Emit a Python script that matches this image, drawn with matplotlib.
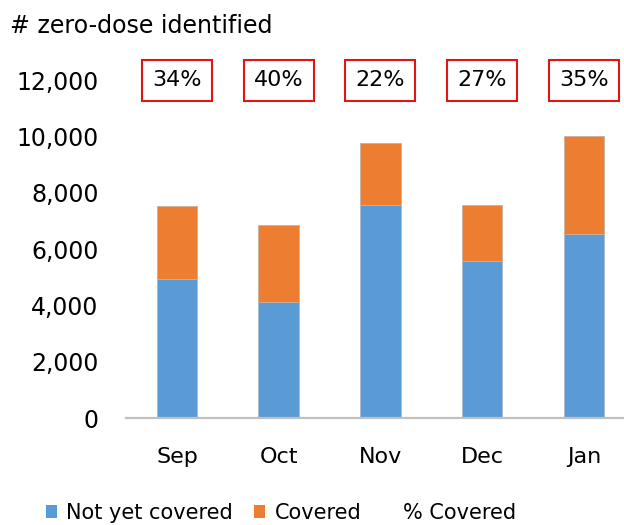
import matplotlib
matplotlib.use("Agg")
import matplotlib.pyplot as plt
from matplotlib.patches import Patch
from matplotlib.lines import Line2D
import numpy as np

months = ["Sep", "Oct", "Nov", "Dec", "Jan"]
not_yet_covered = [4935, 4130, 7580, 5570, 6530]
covered = [2600, 2720, 2180, 1990, 3490]
pct_covered = [34, 40, 22, 27, 35]
y_ticks = [0, 2000, 4000, 6000, 8000, 10000, 12000]

plt.rcParams['font.family'] = ['DejaVu Sans']

W, H = 624, 525
fig = plt.figure(figsize=(W / 100, H / 100), dpi=100)
left, right, bottom, top = 126.2, 624, 418.3, 80.3
ax = fig.add_axes([left / W, 1 - bottom / H, (right - left) / W, (bottom - top) / H])

blue = "#5B9BD5"
orange = "#ED7D31"
x = np.arange(len(months))
bw = 0.40
ax.bar(x, not_yet_covered, width=bw, color=blue, edgecolor="#a9b8c8", linewidth=0.6)
ax.bar(x, covered, width=bw, bottom=not_yet_covered, color=orange, edgecolor="#c8b0a0", linewidth=0.6)

spacing = 101.7
ax.set_xlim(-0.5, -0.5 + (right - left) / spacing)
ax.set_ylim(0, 12000)

for i, p in enumerate(pct_covered):
    ax.text(x[i], 12000, f"{p}%", ha="center", va="center", fontsize=16,
            bbox=dict(boxstyle="square,pad=0.46", facecolor="white", edgecolor="#E01515", linewidth=1.5),
            clip_on=False, zorder=5)

ax.set_yticks(y_ticks)
ax.set_yticklabels([f"{v:,}" for v in y_ticks], fontsize=17)
ax.set_xticks(x)
ax.set_xticklabels(months, fontsize=16)
ax.tick_params(axis="y", length=0, pad=20)
ax.tick_params(axis="x", length=0, pad=21)
for s in ["top", "right", "left"]:
    ax.spines[s].set_visible(False)
ax.spines["bottom"].set_color("#c0c0c0")
ax.spines["bottom"].set_linewidth(1.6)

fig.text(10 / W, 1 - 33 / H, "# zero-dose identified", fontsize=17.1, ha="left", va="baseline")

handles = [Patch(facecolor=blue, edgecolor="none"),
           Patch(facecolor=orange, edgecolor="none"),
           Line2D([], [], linestyle="none")]
fig.legend(handles, ["Not yet covered", "Covered", "% Covered"], loc="center",
           bbox_to_anchor=(281 / W, 1 - 513 / H), ncol=3, frameon=False, fontsize=15,
           handlelength=0.55, handleheight=0.55, handletextpad=0.45, columnspacing=1.0,
           borderpad=0)

fig.savefig("out.png", dpi=100)
